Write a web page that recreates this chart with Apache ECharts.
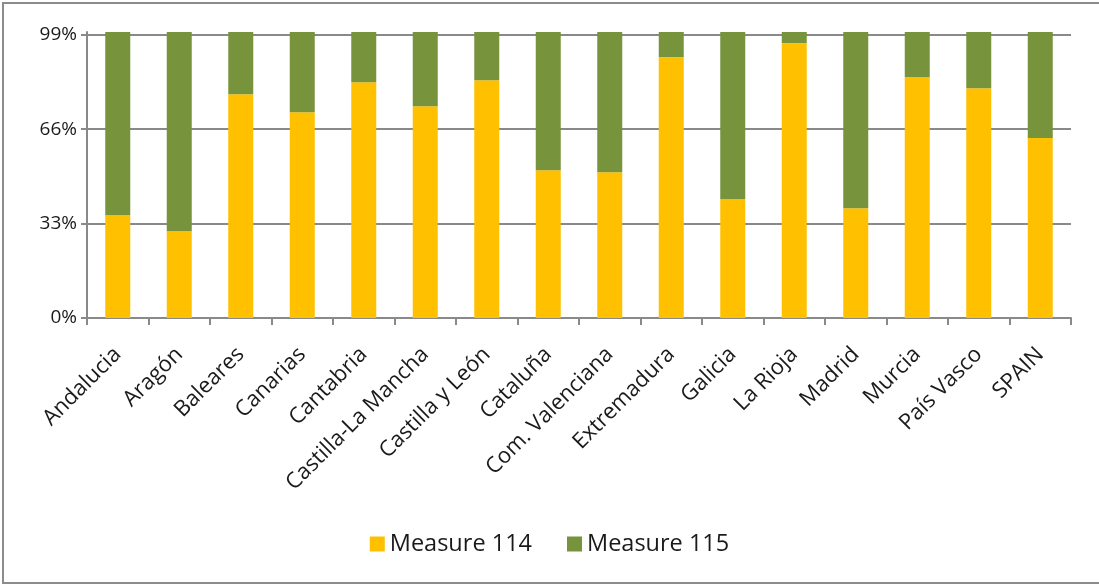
<!DOCTYPE html>
<html>
<head>
<meta charset="utf-8">
<script src="https://cdn.jsdelivr.net/npm/echarts@6/dist/echarts.min.js"></script>
<style>
  body { margin: 0; background: #fff; }
  #chart { width: 1099px; height: 586px; }
  .frame {
    position: absolute;
    left: 2px;
    top: 2px;
    width: 1100px;
    height: 578px;
    border: 2px solid #8c8c8c;
    pointer-events: none;
  }
</style>
</head>
<body>
<div id="chart"></div>
<div class="frame"></div>
<script>
const regions = [
  "Andalucia", "Aragón", "Baleares", "Canarias", "Cantabria",
  "Castilla-La Mancha", "Castilla y León", "Cataluña", "Com. Valenciana",
  "Extremadura", "Galicia", "La Rioja", "Madrid", "Murcia", "País Vasco", "SPAIN"
];
// share of each measure, in %
const measure114 = [35.9, 30.3, 78.2, 71.9, 82.4, 74.0, 83.1, 51.7, 51.0, 91.2, 41.5, 96.1, 38.4, 84.2, 80.3, 62.9];
const measure115 = [64.1, 69.7, 21.8, 28.1, 17.6, 26.0, 16.9, 48.3, 49.0, 8.8, 58.5, 3.9, 61.6, 15.8, 19.7, 37.1];
const yTicks = [0, 33, 66, 99];

const chart = echarts.init(document.getElementById("chart"));
const font = "'Open Sans', 'Noto Sans', sans-serif";

chart.setOption({
  animation: false,
  color: ["#FFC000", "#77933C"],
  textStyle: { fontFamily: font },
  grid: { left: 87, right: 28, top: 32, bottom: 268 },
  legend: {
    bottom: 25,
    left: "center",
    icon: "rect",
    itemWidth: 15,
    itemHeight: 15,
    itemGap: 35,
    textStyle: { fontSize: 23.5, color: "#1a1a1a", fontFamily: font }
  },
  xAxis: {
    type: "category",
    data: regions,
    boundaryGap: true,
    axisLine: { lineStyle: { color: "#898989", width: 2 } },
    axisTick: { show: true, length: 7, lineStyle: { color: "#898989", width: 2 } },
    axisLabel: {
      rotate: 45,
      interval: 0,
      margin: 33,
      fontSize: 22,
      color: "#1a1a1a",
      fontFamily: font
    }
  },
  yAxis: {
    type: "value",
    min: 0,
    max: 100,
    axisLine: { show: true, lineStyle: { color: "#898989", width: 2 } },
    axisTick: { show: true, length: 6, customValues: yTicks, lineStyle: { color: "#898989", width: 2 } },
    axisLabel: {
      customValues: yTicks,
      formatter: "{value}%",
      margin: 10,
      fontSize: 19,
      color: "#1a1a1a",
      fontFamily: font
    },
    splitLine: { show: true, lineStyle: { color: "#898989", width: 2 } }
  },
  series: [
    {
      name: "Measure 114",
      type: "bar",
      stack: "total",
      barWidth: 25,
      data: measure114
    },
    {
      name: "Measure 115",
      type: "bar",
      stack: "total",
      barWidth: 25,
      data: measure115
    }
  ]
});
</script>
</body>
</html>
